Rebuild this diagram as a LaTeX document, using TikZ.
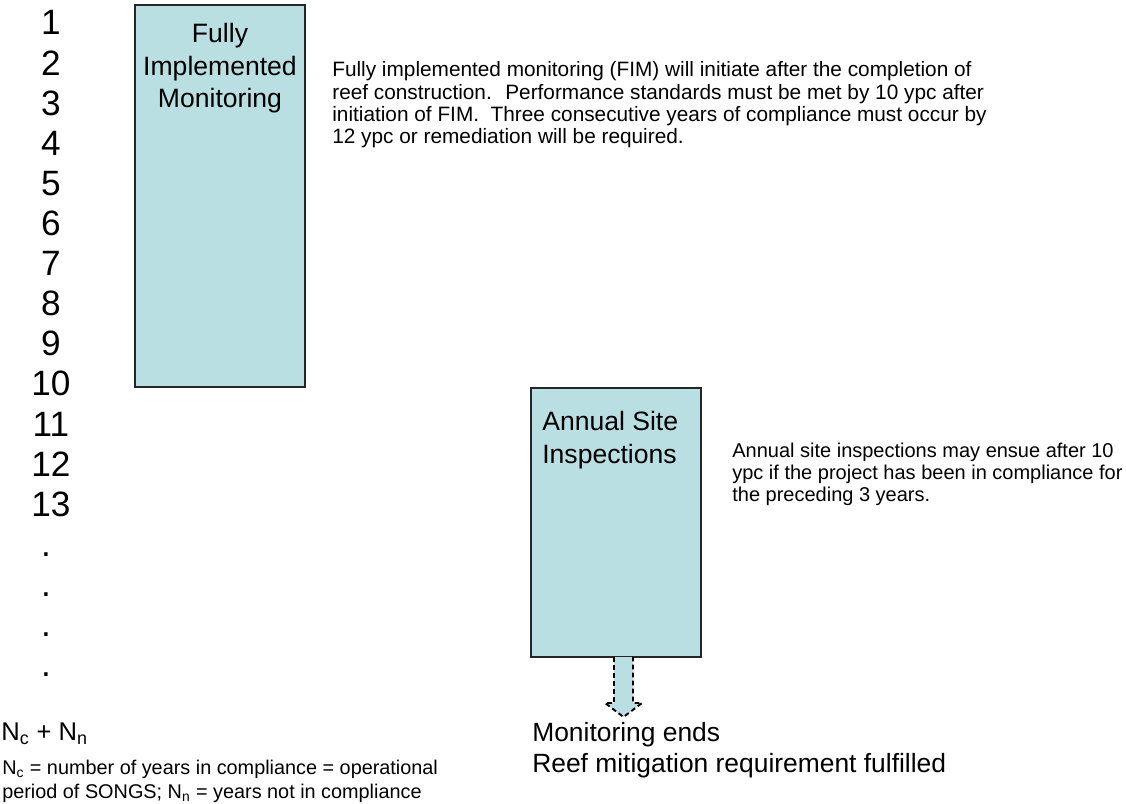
\documentclass[tikz,border=0pt]{standalone}
\usepackage{fontspec}
\setmainfont{Liberation Sans}
\usetikzlibrary{positioning,shadows}

\definecolor{boxblue}{RGB}{186,223,226}
\newcommand\PX{0.625pt}

\tikzset{
  yearnum/.style={anchor=base, inner sep=0pt, font=\fontsize{22}{26}\selectfont},
  phasebox/.style={draw=black!85, line width=0.8pt, fill=boxblue,
    minimum width=170*\PX, inner sep=0pt,
    drop shadow={shadow xshift=0.9pt, shadow yshift=-0.9pt, fill=black!75, opacity=0.9}},
  boxlabel/.style={anchor=north, inner sep=0pt, align=center,
    font=\fontsize{16.6}{20.6}\selectfont},
  notetext/.style={anchor=north west, inner sep=0pt, align=left,
    font=\fontsize{13}{13.9}\selectfont},
  endtext/.style={anchor=north west, inner sep=0pt, align=left,
    font=\fontsize{16.5}{19.6}\selectfont},
  endarrow/.style={draw=black, fill=boxblue, line width=1.2pt,
    dash pattern=on 3pt off 2pt, line join=miter}
}

\begin{document}
\begin{tikzpicture}[x=0.625pt, y=-0.625pt]

\newcommand\NX{51}
\newcommand\DX{46}
\newcommand\LH{40.1}

\useasboundingbox (0,0) rectangle (1126,804); %% page

%% years
\node[yearnum] (y1)  at (\NX, 35 + 0*\LH) {1};
\node[yearnum] (y2)  at (\NX, 35 + 1*\LH) {2};
\node[yearnum] (y3)  at (\NX, 35 + 2*\LH) {3};
\node[yearnum] (y4)  at (\NX, 35 + 3*\LH) {4};
\node[yearnum] (y5)  at (\NX, 35 + 4*\LH) {5};
\node[yearnum] (y6)  at (\NX, 35 + 5*\LH) {6};
\node[yearnum] (y7)  at (\NX, 35 + 6*\LH) {7};
\node[yearnum] (y8)  at (\NX, 35 + 7*\LH) {8};
\node[yearnum] (y9)  at (\NX, 35 + 8*\LH) {9};
\node[yearnum] (y10) at (\NX, 35 + 9*\LH) {10};
\node[yearnum] (y11) at (\NX, 35 + 10*\LH) {11};
\node[yearnum] (y12) at (\NX, 35 + 11*\LH) {12};
\node[yearnum] (y13) at (\NX, 35 + 12*\LH) {13};

\node[yearnum] (d14) at (\DX, 35 + 13*\LH) {.};
\node[yearnum] (d15) at (\DX, 35 + 14*\LH) {.};
\node[yearnum] (d16) at (\DX, 35 + 15*\LH) {.};
\node[yearnum] (d17) at (\DX, 35 + 16*\LH) {.};
%%

\node[anchor=base west, inner sep=0pt, font=\fontsize{16}{19.6}\selectfont]
  (total) at (1, 740) {N\textsubscript{c} + N\textsubscript{n}};

\node[notetext, font=\fontsize{12.4}{15}\selectfont] (legend) at (2, 759.5)
  {N\textsubscript{c} = number of years in compliance = operational\\
   period of SONGS; N\textsubscript{n} = years not in compliance};

%% fully implemented monitoring
\node[phasebox, minimum height=382*\PX] (fim) at (220, 196) {};
\node[boxlabel] (fimtxt) at (220, 22.5) {Fully\\Implemented\\Monitoring};

\node[notetext] (fimnote) at (332, 61.5)
  {Fully implemented monitoring (FIM) will initiate after the completion of\\
   reef construction.~ Performance standards must be met by 10 ypc after\\
   initiation of FIM.~ Three consecutive years of compliance must occur by\\
   12 ypc or remediation will be required.};

%% annual site inspections
\node[phasebox, minimum height=269*\PX] (asi) at (616, 522.5) {};
\node[boxlabel, anchor=north west, align=left] (asitxt) at (542, 411)
  {Annual Site\\Inspections};

\node[notetext, font=\fontsize{12.5}{13.8}\selectfont] (asinote) at (732, 443)
  {Annual site inspections may ensue after 10\\
   ypc if the project has been in compliance for\\
   the preceding 3 years.};

%% end of monitoring
\coordinate (stem) at (623.5, 657);
\draw[endarrow] (stem) ++(-9.5,0) -- ++(0,46) -- ++(-9,0) -- ++(18.5,14)
  -- ++(18.5,-14) -- ++(-9,0) -- ++(0,-46);

\node[endtext] (ends) at (532, 722)
  {Monitoring ends\\Reef mitigation requirement fulfilled};

\end{tikzpicture}
\end{document}
